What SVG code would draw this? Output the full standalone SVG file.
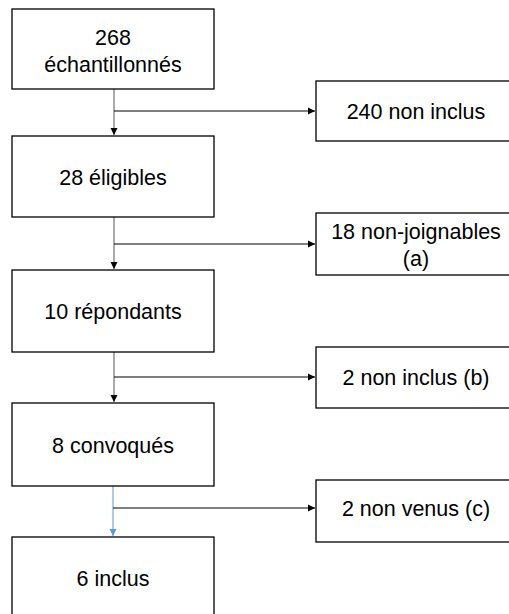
<svg xmlns="http://www.w3.org/2000/svg" width="509" height="614" viewBox="0 0 509 614">
<style>
.box{fill:#fff;stroke:#000;stroke-width:1.3}
.t{font-family:"Liberation Sans",Arial,sans-serif;font-size:21.5px;fill:#000;text-anchor:middle}
.ln{stroke:#000;stroke-width:1;fill:none}
.lv{stroke:#555;stroke-width:1;fill:none}
.lb{stroke:#5B9BD5;stroke-width:1;fill:none}
</style>
<defs>
<marker id="ah" markerWidth="8" markerHeight="8" refX="7" refY="4" orient="auto" markerUnits="userSpaceOnUse"><path d="M0,0.5 L7,4 L0,7.5 Z" fill="#000"/></marker>
<marker id="ahb" markerWidth="8" markerHeight="8" refX="7" refY="4" orient="auto" markerUnits="userSpaceOnUse"><path d="M0,0.5 L7,4 L0,7.5 Z" fill="#5B9BD5"/></marker>
</defs>
<g id="connectors">
<line class="lv" x1="114" y1="89" x2="114" y2="135" marker-end="url(#ah)"/>
<line class="ln" x1="114" y1="111" x2="315" y2="111" marker-end="url(#ah)"/>
<line class="lv" x1="114" y1="217" x2="114" y2="269" marker-end="url(#ah)"/>
<line class="ln" x1="114" y1="244" x2="315" y2="244" marker-end="url(#ah)"/>
<line class="lv" x1="114" y1="352" x2="114" y2="402" marker-end="url(#ah)"/>
<line class="ln" x1="114" y1="377" x2="315" y2="377" marker-end="url(#ah)"/>
<line class="lb" x1="113" y1="486" x2="113" y2="536" marker-end="url(#ahb)"/>
<line class="ln" x1="113" y1="508" x2="315" y2="508" marker-end="url(#ah)"/>
</g>
<g id="n1"><rect class="box" x="12" y="9" width="202" height="80"/><text class="t" x="113" y="45">268</text><text class="t" x="113" y="72">échantillonnés</text></g>
<g id="n2"><rect class="box" x="12" y="136" width="202" height="81"/><text class="t" x="113" y="185">28 éligibles</text></g>
<g id="n3"><rect class="box" x="12" y="270" width="202" height="82"/><text class="t" x="113" y="319">10 répondants</text></g>
<g id="n4"><rect class="box" x="12" y="403" width="202" height="83"/><text class="t" x="113" y="453">8 convoqués</text></g>
<g id="n5"><rect class="box" x="12" y="537" width="202" height="90"/><text class="t" x="113" y="586">6 inclus</text></g>
<g id="r1"><rect class="box" x="316" y="81" width="200" height="60"/><text class="t" x="416" y="119">240 non inclus</text></g>
<g id="r2"><rect class="box" x="316" y="213" width="200" height="62"/><text class="t" x="416" y="239">18 non-joignables</text><text class="t" x="416" y="266">(a)</text></g>
<g id="r3"><rect class="box" x="316" y="347" width="200" height="61"/><text class="t" x="416" y="385">2 non inclus (b)</text></g>
<g id="r4"><rect class="box" x="316" y="480" width="200" height="62"/><text class="t" x="416" y="516">2 non venus (c)</text></g>
</svg>
